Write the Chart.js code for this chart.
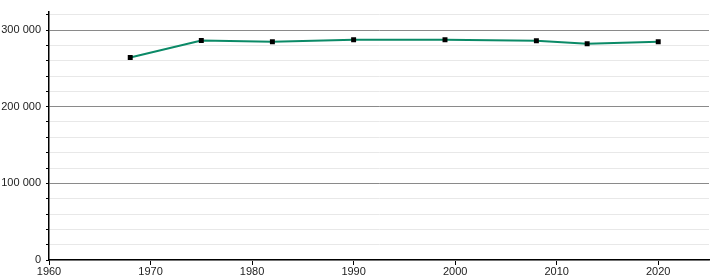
<!DOCTYPE html>
<html>
<head>
<meta charset="utf-8">
<script src="https://cdn.jsdelivr.net/npm/chart.js@4"></script>
<style>
  html, body { margin: 0; padding: 0; background: #fff; }
  #wrap { width: 720px; height: 280px; }
</style>
</head>
<body>
<div id="wrap"><canvas id="myChart" width="720" height="280"></canvas></div>
<script>
const years = [1968, 1975, 1982, 1990, 1999, 2008, 2013, 2020];
const population = [264200, 286300, 284600, 287200, 287200, 285900, 282000, 284600];
const xTicks = [1960, 1970, 1980, 1990, 2000, 2010, 2020];

document.addEventListener("DOMContentLoaded", function() {
    const ctx = document.getElementById('myChart').getContext('2d');

    const points = years.map((y, i) => ({ x: y, y: population[i] }));

    const fmt = v => String(v).replace(/\B(?=(\d{3})+(?!\d))/g, ' ');

    new Chart(ctx, {
        type: 'line',
        data: {
            datasets: [{
                data: points,
                borderColor: '#0b8a67',
                borderWidth: 2,
                pointStyle: 'rect',
                pointRadius: 3.5,
                pointBorderWidth: 0,
                pointBackgroundColor: '#000',
                tension: 0
            }]
        },
        options: {
            responsive: false,
            animation: false,
            layout: { padding: { top: 8, right: 11, left: 0, bottom: 0 } },
            plugins: { legend: { display: false }, tooltip: { enabled: false } },
            scales: {
                x: {
                    type: 'linear',
                    min: 1960,
                    max: 2025,
                    afterBuildTicks: axis => { axis.ticks = xTicks.map(v => ({ value: v })); },
                    afterFit: axis => { axis.height = 20; },
                    ticks: {
                        color: '#222',
                        font: { family: 'Liberation Sans', size: 11 },
                        padding: 0,
                        maxRotation: 0,
                        callback: v => String(v)
                    },
                    grid: {
                        drawOnChartArea: false,
                        tickLength: 5,
                        tickColor: '#000'
                    },
                    border: { color: '#000', width: 1.5 }
                },
                y: {
                    min: 0,
                    max: 324000,
                    afterBuildTicks: axis => {
                        const t = [];
                        for (let v = 0; v <= 320000; v += 20000) t.push({ value: v });
                        axis.ticks = t;
                    },
                    afterFit: axis => { axis.width = 49; },
                    ticks: {
                        color: '#222',
                        font: { family: 'Liberation Sans', size: 11 },
                        padding: 5,
                        autoSkip: false,
                        callback: v => (v % 100000 === 0 ? fmt(v) : '')
                    },
                    grid: {
                        color: c => (c.tick && c.tick.value % 100000 === 0 && c.tick.value !== 0 ? '#8a8a8a' : '#e8e8e8'),
                        lineWidth: 1,
                        tickLength: 3,
                        tickColor: '#000'
                    },
                    border: { color: '#000', width: 1.5 }
                }
            }
        }
    });
});
</script>
</body>
</html>
